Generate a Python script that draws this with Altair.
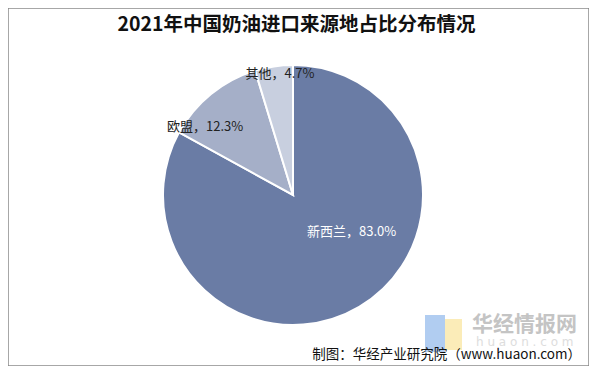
import altair as alt
import pandas as pd

categories = ["新西兰", "欧盟", "其他"]
shares = [83.0, 12.3, 4.7]
colors = ["#6A7CA5", "#A5AFC8", "#C8CFDF"]
title_text = "2021年中国奶油进口来源地占比分布情况"
source_text = "制图：华经产业研究院（www.huaon.com）"

df = pd.DataFrame({
    "cat": categories,
    "val": shares,
    "order": list(range(len(categories))),
})
df["label"] = [f"{c}，{v:.1f}%" for c, v in zip(categories, shares)]

W, H = 581, 358
CX, CY, R = 285, 187, 130

base = alt.Chart(df)

pie = base.mark_arc(outerRadius=R, stroke="white", strokeWidth=2).encode(
    theta=alt.Theta("val:Q", stack=True),
    order=alt.Order("order:Q"),
    color=alt.Color("cat:N", scale=alt.Scale(domain=categories, range=colors), legend=None),
    x=alt.value(CX), y=alt.value(CY),
)

def label_layer(cat, radius, dx, dy, color):
    return base.mark_text(fontSize=13, font="Noto Sans CJK SC", color=color,
                          dx=dx, dy=dy, align="center", baseline="middle").encode(
        theta=alt.Theta("val:Q", stack=True),
        order=alt.Order("order:Q"),
        radius=alt.value(radius),
        text=alt.condition(alt.datum.cat == cat, "label:N", alt.value("")),
        x=alt.value(CX), y=alt.value(CY),
    )

lab1 = label_layer("新西兰", 70, 23, -23, "white")
lab2 = label_layer("欧盟", 111, -18, 18, "#222222")
lab3 = label_layer("其他", 122, 5, 0, "#222222")

title = alt.Chart(pd.DataFrame({"t": [title_text]})).mark_text(
    fontSize=19.5, fontWeight="bold", font="Noto Sans CJK SC", color="#111111",
    align="center", baseline="middle").encode(
    text="t:N", x=alt.value(W / 2 - 2), y=alt.value(17))

logo_blue = alt.Chart(pd.DataFrame({"a": [0]})).mark_rect(color="#A9C8F0", opacity=0.9).encode(
    x=alt.value(417), x2=alt.value(437), y=alt.value(307), y2=alt.value(344))
logo_yellow = alt.Chart(pd.DataFrame({"a": [0]})).mark_rect(color="#FBEAB0", opacity=0.9).encode(
    x=alt.value(437), x2=alt.value(454), y=alt.value(311), y2=alt.value(342))

wm1 = alt.Chart(pd.DataFrame({"t": ["华经情报网"]})).mark_text(
    fontSize=21, fontWeight="bold", font="Noto Sans CJK SC", color="#C4C4C4",
    align="left", baseline="middle").encode(
    text="t:N", x=alt.value(464), y=alt.value(317))
wm2 = alt.Chart(pd.DataFrame({"t": ["h u a o n . c o m"]})).mark_text(
    fontSize=12, font="DejaVu Sans", color="#DDDDDD",
    align="left", baseline="middle").encode(
    text="t:N", x=alt.value(468), y=alt.value(334))

src = alt.Chart(pd.DataFrame({"t": [source_text]})).mark_text(
    fontSize=13.5, font="Noto Sans CJK SC", color="#111111",
    align="right", baseline="middle").encode(
    text="t:N", x=alt.value(573), y=alt.value(347))

chart = alt.layer(pie, lab1, lab2, lab3, title, logo_blue, logo_yellow, wm1, wm2, src).properties(
    width=W, height=H, padding=0,
    autosize=alt.AutoSizeParams(type="fit", contains="padding"),
    background="white",
).configure_view(stroke="#8A8A8A", strokeWidth=1.5)

chart.save("out.html", embed_options={"renderer": "svg", "actions": False})
